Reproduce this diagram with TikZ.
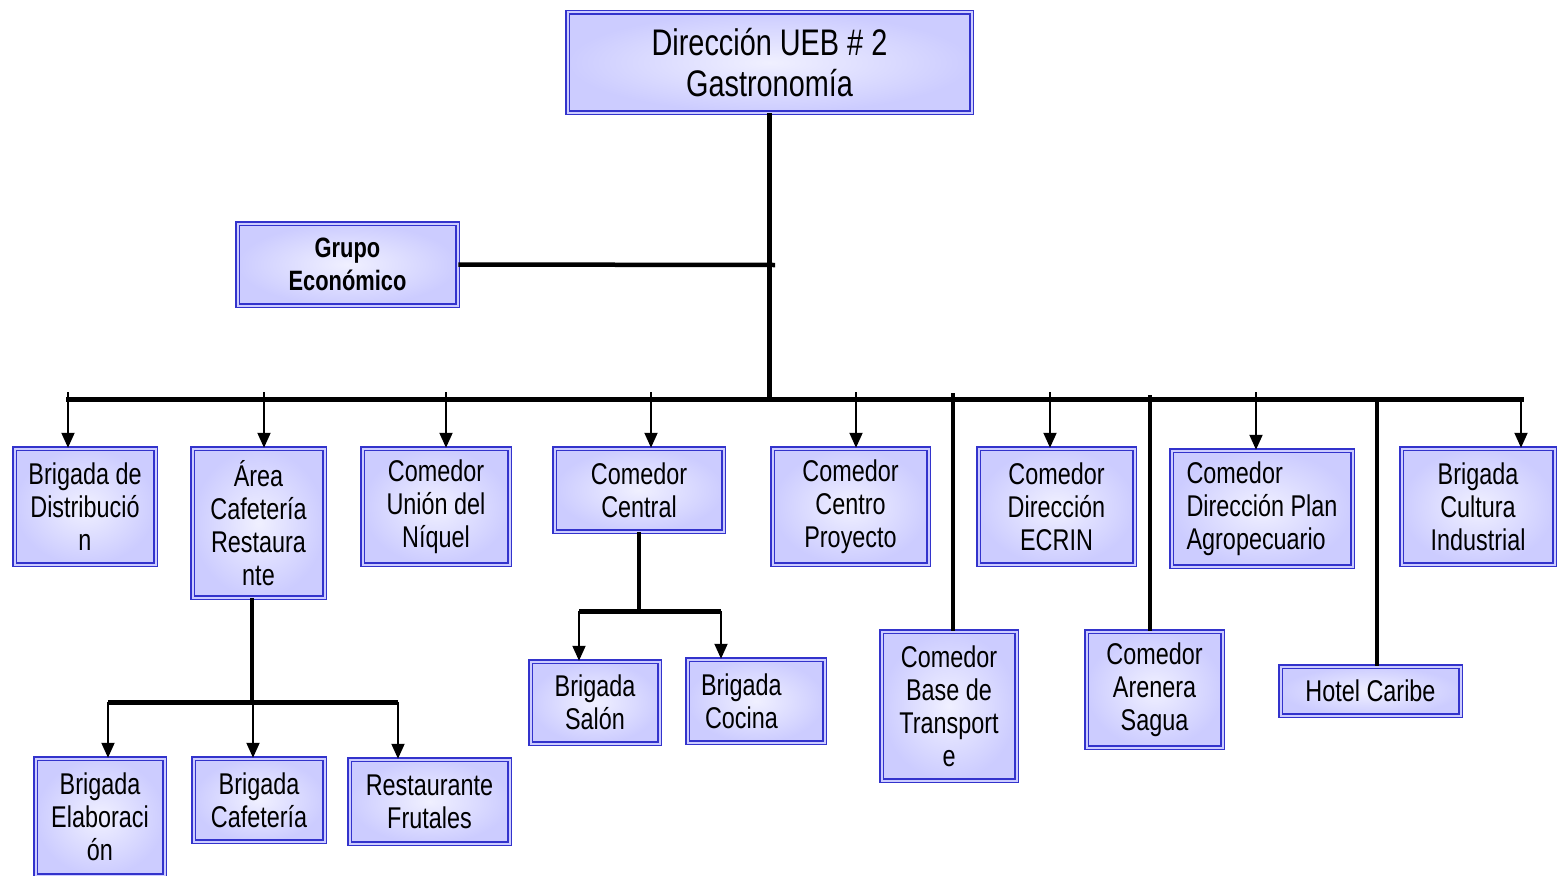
\documentclass[tikz,border=0pt]{standalone}
\usepackage{fontspec}
\setmainfont{Liberation Sans}[FakeStretch=0.78]
\usetikzlibrary{arrows.meta}
\definecolor{bord}{RGB}{51,51,204}
\definecolor{lav}{RGB}{204,204,255}
\definecolor{lavc}{RGB}{240,240,255}
\newcommand{\bodyfs}{\fontsize{30}{33}\selectfont}
\newcommand{\titlefs}{\fontsize{37}{41}\selectfont}
\newcommand{\grupofs}{\fontsize{28}{33}\selectfont\bfseries}
\tikzset{
  box/.style={draw=bord, double=lav, double distance=2pt, line width=1.5pt,
    inner color=lavc, outer color=lav, inner sep=0pt, align=center, font=\bodyfs},
  trunk/.style={line width=4.5pt, black},
  busline/.style={line width=5pt, black, line cap=rect},
  arr/.style={line width=2pt, black, -{Triangle[width=13pt,length=15pt]}}
}
\begin{document}
\begin{tikzpicture}[x=1pt,y=-1pt]
\useasboundingbox (0,0) rectangle (1557,875);
% boxes
\node[box, font=\titlefs, minimum width=404pt, minimum height=100pt] (top) at (769.5,62.5) {Dirección UEB \# 2\\Gastronomía};
\node[box, font=\grupofs, minimum width=220pt, minimum height=82pt] (grupo) at (347.5,264.5) {Grupo\\Económico};
\node[box, minimum width=141pt, minimum height=116pt] (dist) at (85,506.5) {Brigada de\\Distribució\\n};
\node[box, minimum width=132pt, minimum height=149pt] (area) at (258.5,523) {Área\\Cafetería\\Restaura\\nte};
\node[box, minimum width=147pt, minimum height=116pt] (union) at (436,506.5) {Comedor\\Unión del\\Níquel};
\node[box, minimum width=169pt, minimum height=83pt] (central) at (639,490) {Comedor\\Central};
\node[box, minimum width=156pt, minimum height=116pt] (centro) at (850.5,506.5) {Comedor\\Centro\\Proyecto};
\node[box, minimum width=156pt, minimum height=116pt] (ecrin) at (1056.5,506.5) {Comedor\\Dirección\\ECRIN};
\node[box, align=left, minimum width=181pt, minimum height=116pt] (plan) at (1262,508.5) {Comedor\\Dirección Plan\\Agropecuario};
\node[box, minimum width=153pt, minimum height=116pt] (cultura) at (1478,506.5) {Brigada\\Cultura\\Industrial};
\node[box, minimum width=135pt, minimum height=149pt] (base) at (949,706) {Comedor\\Base de\\Transport\\e};
\node[box, minimum width=136pt, minimum height=116pt] (arenera) at (1154.5,689.5) {Comedor\\Arenera\\Sagua};
\node[box, minimum width=180pt, minimum height=49pt] (hotel) at (1370.5,691) {Hotel Caribe};
\node[box, minimum width=129pt, minimum height=82pt] (salon) at (595,702.5) {Brigada\\Salón};
\node[box, align=left, text width=110pt, minimum width=137pt, minimum height=83pt] (cocina) at (756,701) {Brigada\\\hspace*{4pt}Cocina};
\node[box, minimum width=129pt, minimum height=117pt] (elab) at (100,817) {Brigada\\Elaboraci\\ón};
\node[box, minimum width=131pt, minimum height=83pt] (bcafe) at (259,800) {Brigada\\Cafetería};
\node[box, minimum width=160pt, minimum height=84pt] (frutales) at (429.5,801.5) {Restaurante\\Frutales};
% coordinates
\coordinate (bL) at (68,399);
\coordinate (bR) at (1521,399);
\coordinate (j) at (775,265);
\coordinate (a1) at (68,392);
\coordinate (a2) at (264,392);
\coordinate (a3) at (446,392);
\coordinate (a4) at (651,392);
\coordinate (a5) at (856,392);
\coordinate (a6) at (1050,392);
\coordinate (a7) at (1256,392);
\coordinate (a8) at (1521,399);
\coordinate (t1) at (953,393);
\coordinate (t2) at (1150,395);
\coordinate (t3) at (1377,399);
\coordinate (cL) at (579,611);
\coordinate (cR) at (721,611);
\coordinate (cM) at (639,611);
\coordinate (eL) at (108,702);
\coordinate (eM) at (252,702);
\coordinate (eN) at (253,702);
\coordinate (eR) at (398,702);
% connectors
\draw[trunk] (top.south) -- (top.south |- bL);
\draw[trunk] (grupo.east) -- (j);
\draw[busline] (bL) -- (bR);
\draw[arr] (a1) -- (a1 |- dist.north);
\draw[arr] (a2) -- (a2 |- area.north);
\draw[arr] (a3) -- (a3 |- union.north);
\draw[arr] (a4) -- (a4 |- central.north);
\draw[arr] (a5) -- (a5 |- centro.north);
\draw[arr] (a6) -- (a6 |- ecrin.north);
\draw[arr] (a7) -- (a7 |- plan.north);
\draw[arr] (a8) -- (a8 |- cultura.north);
\draw[trunk] (t1) -- (t1 |- base.north);
\draw[trunk] (t2) -- (t2 |- arenera.north);
\draw[trunk] (t3) -- (t3 |- hotel.north);
% Comedor Central branch
\draw[trunk] (central.south) -- (cM);
\draw[busline, line cap=butt] (cL) -- (cR);
\draw[arr] (cL) -- (cL |- salon.north);
\draw[arr] (cR) -- (cR |- cocina.north);
% Area Cafeteria branch
\draw[trunk] (eM |- area.south) -- (eM);
\draw[busline, line cap=butt] (eL) -- (eR);
\draw[arr] (eL) -- (eL |- elab.north);
\draw[arr] (eN) -- (eN |- bcafe.north);
\draw[arr] (eR) -- (eR |- frutales.north);
\end{tikzpicture}
\end{document}
